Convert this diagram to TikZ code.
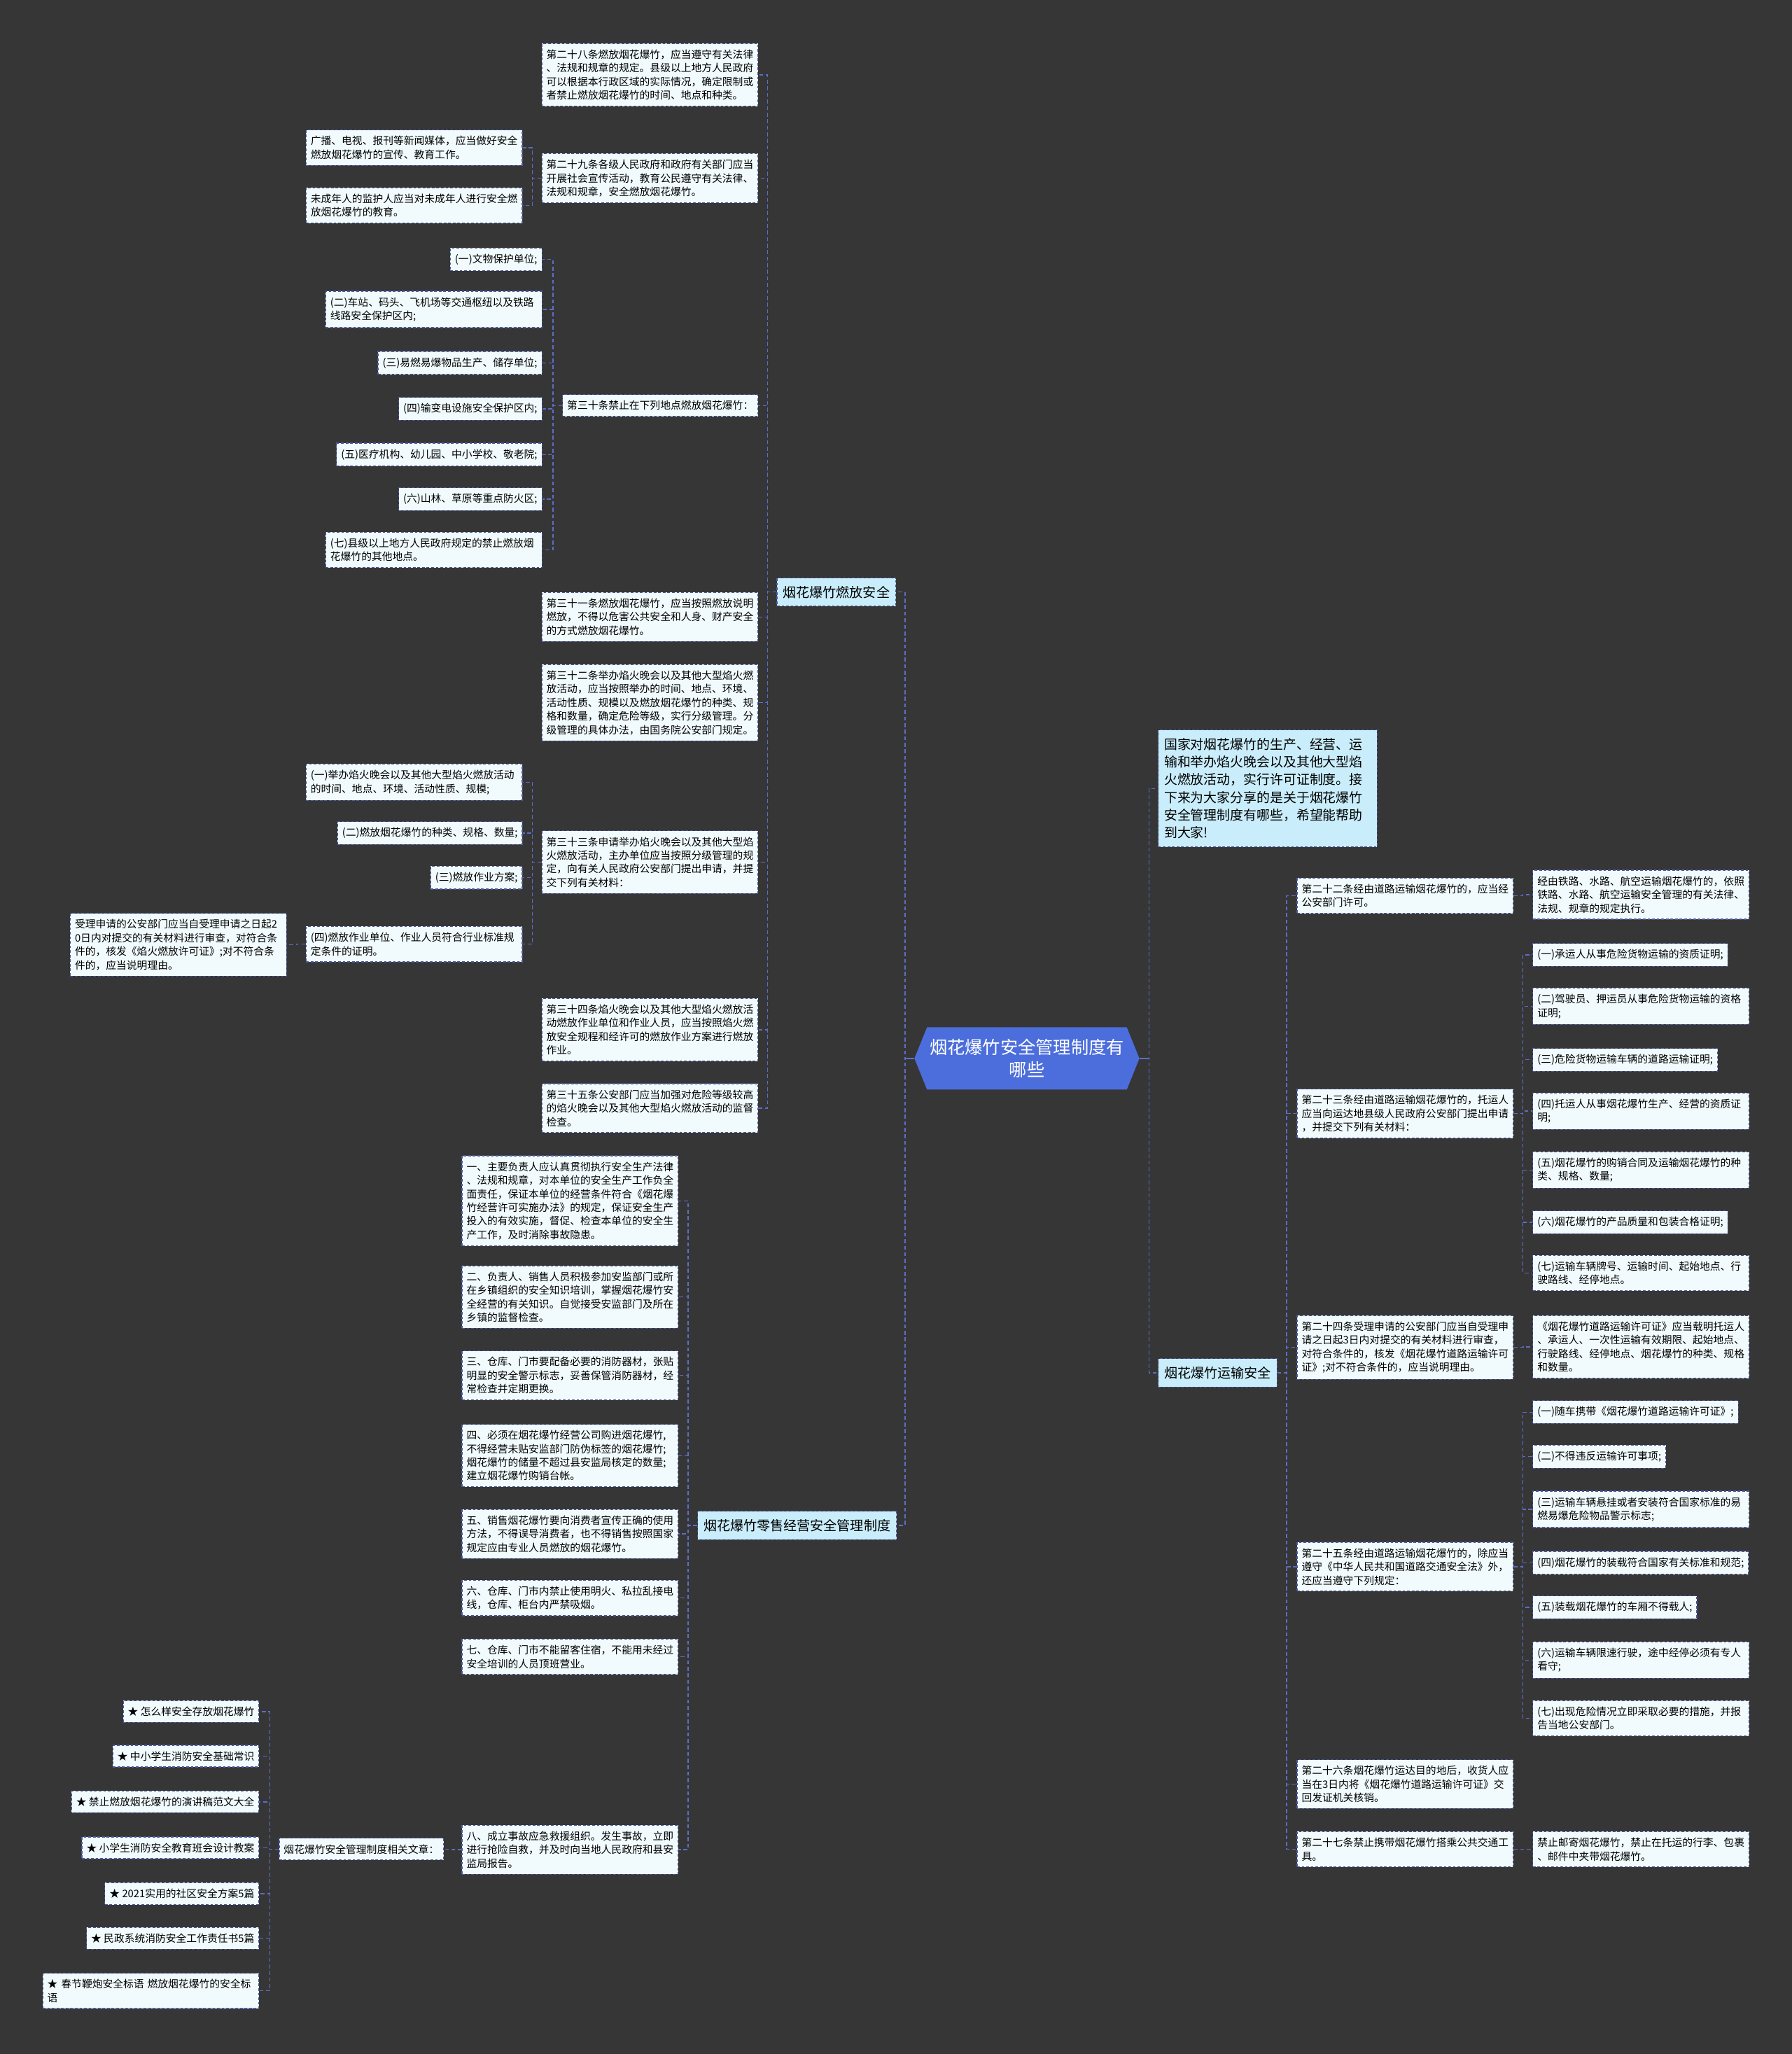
\documentclass[tikz,border=0pt]{standalone}
\usepackage{fontspec}
\usepackage{tikz}
\usetikzlibrary{shapes.symbols}
\setmainfont{Noto Sans CJK SC}

\definecolor{bgc}{HTML}{373637}
\definecolor{leafc}{HTML}{F1FBFD}
\definecolor{topicc}{HTML}{C9EDFB}
\definecolor{rootc}{HTML}{4C6EDC}
\definecolor{boxline}{HTML}{4A5A9E}
\definecolor{linkc}{HTML}{5A6EC8}

\newcommand{\leaffont}{\fontsize{7.9}{10.4}\selectfont}
\newcommand{\topicfont}{\fontsize{10.2}{12}\selectfont}
\newcommand{\introfont}{\fontsize{10.1}{13.5}\selectfont}
\newcommand{\rootfont}{\fontsize{13.5}{17}\selectfont}

\tikzset{
  leaf/.style={draw=boxline, dash pattern=on 2pt off 1.5pt, line width=0.6pt, fill=leafc,
    font=\leaffont, inner xsep=3.5pt, inner ysep=4.6pt, align=left},
  leafw/.style={leaf, text width=158pt},
  topic/.style={draw=boxline, dash pattern=on 2pt off 1.5pt, line width=0.6pt, fill=topicc,
    font=\topicfont, inner xsep=4.5pt, inner ysep=6pt},
  link/.style={draw=linkc, dash pattern=on 3pt off 2pt, line width=0.7pt},
  toL/.style={to path={-- ++(-7,0) |- (\tikztotarget)}},
  toR/.style={to path={-- ++(7,0) |- (\tikztotarget)}},
}

\begin{document}
\begin{tikzpicture}[x=1pt, y=-1pt]
        \fill[bgc] (0,0) rectangle (1368,1568);
        \useasboundingbox (0,0) rectangle (1368,1568);

        % centre
        \node[signal, signal to=west and east, signal pointer angle=136, fill=rootc, text=white,
          font=\rootfont, align=center, inner xsep=2pt, inner ysep=9pt] (root) at (784,808)
          {烟花爆竹安全管理制度有\\哪些};

        % left: burning
        \node[topic] (burn) at (638.5,452) {烟花爆竹燃放安全};
        \node[leafw, anchor=north east] (a28) at (579,33) {第二十八条燃放烟花爆竹，应当遵守有关法律\\、法规和规章的规定。县级以上地方人民政府\\可以根据本行政区域的实际情况，确定限制或\\者禁止燃放烟花爆竹的时间、地点和种类。};
        \node[leafw, anchor=north east] (a29) at (579,117) {第二十九条各级人民政府和政府有关部门应当\\开展社会宣传活动，教育公民遵守有关法律、\\法规和规章，安全燃放烟花爆竹。};
        \node[leafw, anchor=north east] (a29a) at (399,99) {广播、电视、报刊等新闻媒体，应当做好安全\\燃放烟花爆竹的宣传、教育工作。};
        \node[leafw, anchor=north east] (a29b) at (399,143) {未成年人的监护人应当对未成年人进行安全燃\\放烟花爆竹的教育。};
        \node[leaf, anchor=north east] (a30) at (579,301) {第三十条禁止在下列地点燃放烟花爆竹：};
        \node[leaf, anchor=north east] (p1) at (414,189) {(一)文物保护单位;};
        \node[leafw, anchor=north east] (p2) at (414,222) {(二)车站、码头、飞机场等交通枢纽以及铁路\\线路安全保护区内;};
        \node[leaf, anchor=north east] (p3) at (414,268) {(三)易燃易爆物品生产、储存单位;};
        \node[leaf, anchor=north east] (p4) at (414,303) {(四)输变电设施安全保护区内;};
        \node[leaf, anchor=north east] (p5) at (414,338) {(五)医疗机构、幼儿园、中小学校、敬老院;};
        \node[leaf, anchor=north east] (p6) at (414,372) {(六)山林、草原等重点防火区;};
        \node[leafw, anchor=north east] (p7) at (414,406) {(七)县级以上地方人民政府规定的禁止燃放烟\\花爆竹的其他地点。};
        \node[leafw, anchor=north east] (a31) at (579,452) {第三十一条燃放烟花爆竹，应当按照燃放说明\\燃放，不得以危害公共安全和人身、财产安全\\的方式燃放烟花爆竹。};
        \node[leafw, anchor=north east] (a32) at (579,507) {第三十二条举办焰火晚会以及其他大型焰火燃\\放活动，应当按照举办的时间、地点、环境、\\活动性质、规模以及燃放烟花爆竹的种类、规\\格和数量，确定危险等级，实行分级管理。分\\级管理的具体办法，由国务院公安部门规定。};
        \node[leafw, anchor=north east] (a33) at (579,634) {第三十三条申请举办焰火晚会以及其他大型焰\\火燃放活动，主办单位应当按照分级管理的规\\定，向有关人民政府公安部门提出申请，并提\\交下列有关材料：};
        \node[leafw, anchor=north east] (q1) at (399,583) {(一)举办焰火晚会以及其他大型焰火燃放活动\\的时间、地点、环境、活动性质、规模;};
        \node[leaf, anchor=north east] (q2) at (399,627) {(二)燃放烟花爆竹的种类、规格、数量;};
        \node[leaf, anchor=north east] (q3) at (399,661) {(三)燃放作业方案;};
        \node[leafw, anchor=north east] (q4) at (399,707) {(四)燃放作业单位、作业人员符合行业标准规\\定条件的证明。};
        \node[leafw, anchor=north east] (qx) at (219,697) {受理申请的公安部门应当自受理申请之日起2\\0日内对提交的有关材料进行审查，对符合条\\件的，核发《焰火燃放许可证》;对不符合条\\件的，应当说明理由。};
        \node[leafw, anchor=north east] (a34) at (579,762) {第三十四条焰火晚会以及其他大型焰火燃放活\\动燃放作业单位和作业人员，应当按照焰火燃\\放安全规程和经许可的燃放作业方案进行燃放\\作业。};
        \node[leafw, anchor=north east] (a35) at (579,827) {第三十五条公安部门应当加强对危险等级较高\\的焰火晚会以及其他大型焰火燃放活动的监督\\检查。};

        % left: retail
        \node[topic] (retail) at (608.5,1164.5) {烟花爆竹零售经营安全管理制度};
        \node[leafw, anchor=north east] (r1) at (518,882) {一、主要负责人应认真贯彻执行安全生产法律\\、法规和规章，对本单位的安全生产工作负全\\面责任，保证本单位的经营条件符合《烟花爆\\竹经营许可实施办法》的规定，保证安全生产\\投入的有效实施，督促、检查本单位的安全生\\产工作，及时消除事故隐患。};
        \node[leafw, anchor=north east] (r2) at (518,966) {二、负责人、销售人员积极参加安监部门或所\\在乡镇组织的安全知识培训，掌握烟花爆竹安\\全经营的有关知识。自觉接受安监部门及所在\\乡镇的监督检查。};
        \node[leafw, anchor=north east] (r3) at (518,1031) {三、仓库、门市要配备必要的消防器材，张贴\\明显的安全警示标志，妥善保管消防器材，经\\常检查并定期更换。};
        \node[leafw, anchor=north east] (r4) at (518,1087) {四、必须在烟花爆竹经营公司购进烟花爆竹,\\不得经营未贴安监部门防伪标签的烟花爆竹;\\烟花爆竹的储量不超过县安监局核定的数量;\\建立烟花爆竹购销台帐。};
        \node[leafw, anchor=north east] (r5) at (518,1152) {五、销售烟花爆竹要向消费者宣传正确的使用\\方法，不得误导消费者，也不得销售按照国家\\规定应由专业人员燃放的烟花爆竹。};
        \node[leafw, anchor=north east] (r6) at (518,1206) {六、仓库、门市内禁止使用明火、私拉乱接电\\线，仓库、柜台内严禁吸烟。};
        \node[leafw, anchor=north east] (r7) at (518,1251) {七、仓库、门市不能留客住宿，不能用未经过\\安全培训的人员顶班营业。};
        \node[leafw, anchor=north east] (r8) at (518,1393) {八、成立事故应急救援组织。发生事故，立即\\进行抢险自救，并及时向当地人民政府和县安\\监局报告。};
        \node[leaf, anchor=north east] (rel) at (339,1403) {烟花爆竹安全管理制度相关文章：};
        \node[leaf, anchor=north east] (s1) at (198,1298) {★ 怎么样安全存放烟花爆竹};
        \node[leaf, anchor=north east] (s2) at (198,1332) {★ 中小学生消防安全基础常识};
        \node[leaf, anchor=north east] (s3) at (198,1367) {★ 禁止燃放烟花爆竹的演讲稿范文大全};
        \node[leaf, anchor=north east] (s4) at (198,1402) {★ 小学生消防安全教育班会设计教案};
        \node[leaf, anchor=north east] (s5) at (198,1437) {★ 2021实用的社区安全方案5篇};
        \node[leaf, anchor=north east] (s6) at (198,1471) {★ 民政系统消防安全工作责任书5篇};
        \node[leafw, anchor=north east] (s7) at (198,1506) {★ 春节鞭炮安全标语 燃放烟花爆竹的安全标\\语};

        % right: intro and transport
        \node[topic, font=\introfont, text width=158pt, align=left, inner ysep=6.2pt, anchor=north west] (intro) at (884,557)
          {国家对烟花爆竹的生产、经营、运\\输和举办焰火晚会以及其他大型焰\\火燃放活动，实行许可证制度。接\\下来为大家分享的是关于烟花爆竹\\安全管理制度有哪些，希望能帮助\\到大家!};
        \node[topic, anchor=west] (transport) at (884,1048) {烟花爆竹运输安全};
        \node[leafw, anchor=north west] (t22) at (990,670) {第二十二条经由道路运输烟花爆竹的，应当经\\公安部门许可。};
        \node[leafw, anchor=north west] (t22x) at (1170,664) {经由铁路、水路、航空运输烟花爆竹的，依照\\铁路、水路、航空运输安全管理的有关法律、\\法规、规章的规定执行。};
        \node[leafw, anchor=north west] (t23) at (990,831) {第二十三条经由道路运输烟花爆竹的，托运人\\应当向运达地县级人民政府公安部门提出申请\\，并提交下列有关材料：};
        \node[leaf, anchor=north west] (u1) at (1170,720) {(一)承运人从事危险货物运输的资质证明;};
        \node[leafw, anchor=north west] (u2) at (1170,754) {(二)驾驶员、押运员从事危险货物运输的资格\\证明;};
        \node[leaf, anchor=north west] (u3) at (1170,800) {(三)危险货物运输车辆的道路运输证明;};
        \node[leafw, anchor=north west] (u4) at (1170,834) {(四)托运人从事烟花爆竹生产、经营的资质证\\明;};
        \node[leafw, anchor=north west] (u5) at (1170,879) {(五)烟花爆竹的购销合同及运输烟花爆竹的种\\类、规格、数量;};
        \node[leaf, anchor=north west] (u6) at (1170,924) {(六)烟花爆竹的产品质量和包装合格证明;};
        \node[leafw, anchor=north west] (u7) at (1170,958) {(七)运输车辆牌号、运输时间、起始地点、行\\驶路线、经停地点。};
        \node[leafw, anchor=north west] (t24) at (990,1004) {第二十四条受理申请的公安部门应当自受理申\\请之日起3日内对提交的有关材料进行审查，\\对符合条件的，核发《烟花爆竹道路运输许可\\证》;对不符合条件的，应当说明理由。};
        \node[leafw, anchor=north west] (t24x) at (1170,1004) {《烟花爆竹道路运输许可证》应当载明托运人\\、承运人、一次性运输有效期限、起始地点、\\行驶路线、经停地点、烟花爆竹的种类、规格\\和数量。};
        \node[leafw, anchor=north west] (t25) at (990,1177) {第二十五条经由道路运输烟花爆竹的，除应当\\遵守《中华人民共和国道路交通安全法》外，\\还应当遵守下列规定：};
        \node[leaf, anchor=north west] (v1) at (1170,1069) {(一)随车携带《烟花爆竹道路运输许可证》;};
        \node[leaf, anchor=north west] (v2) at (1170,1103) {(二)不得违反运输许可事项;};
        \node[leafw, anchor=north west] (v3) at (1170,1138) {(三)运输车辆悬挂或者安装符合国家标准的易\\燃易爆危险物品警示标志;};
        \node[leaf, anchor=north west] (v4) at (1170,1184) {(四)烟花爆竹的装载符合国家有关标准和规范;};
        \node[leaf, anchor=north west] (v5) at (1170,1218) {(五)装载烟花爆竹的车厢不得载人;};
        \node[leafw, anchor=north west] (v6) at (1170,1253) {(六)运输车辆限速行驶，途中经停必须有专人\\看守;};
        \node[leafw, anchor=north west] (v7) at (1170,1298) {(七)出现危险情况立即采取必要的措施，并报\\告当地公安部门。};
        \node[leafw, anchor=north west] (t26) at (990,1343) {第二十六条烟花爆竹运达目的地后，收货人应\\当在3日内将《烟花爆竹道路运输许可证》交\\回发证机关核销。};
        \node[leafw, anchor=north west] (t27) at (990,1398) {第二十七条禁止携带烟花爆竹搭乘公共交通工\\具。};
        \node[leafw, anchor=north west] (t27x) at (1170,1398) {禁止邮寄烟花爆竹，禁止在托运的行李、包裹\\、邮件中夹带烟花爆竹。};

        \draw[link]
        (root.west) edge[toL] (burn.east) edge[toL] (retail.east)
        (root.east) edge[toR] (intro.west) edge[toR] (transport.west)
        (burn.west) edge[toL] (a28.east) edge[toL] (a29.east) edge[toL] (a30.east)
          edge[toL] (a31.east) edge[toL] (a32.east) edge[toL] (a33.east)
          edge[toL] (a34.east) edge[toL] (a35.east)
        (a29.west) edge[toL] (a29a.east) edge[toL] (a29b.east)
        (a30.west) edge[toL] (p1.east) edge[toL] (p2.east) edge[toL] (p3.east)
          edge[toL] (p4.east) edge[toL] (p5.east) edge[toL] (p6.east) edge[toL] (p7.east)
        (a33.west) edge[toL] (q1.east) edge[toL] (q2.east) edge[toL] (q3.east) edge[toL] (q4.east)
        (q4.west) edge[toL] (qx.east)
        (retail.west) edge[toL] (r1.east) edge[toL] (r2.east) edge[toL] (r3.east) edge[toL] (r4.east)
          edge[toL] (r5.east) edge[toL] (r6.east) edge[toL] (r7.east) edge[toL] (r8.east)
        (r8.west) edge[toL] (rel.east)
        (rel.west) edge[toL] (s1.east) edge[toL] (s2.east) edge[toL] (s3.east) edge[toL] (s4.east)
          edge[toL] (s5.east) edge[toL] (s6.east) edge[toL] (s7.east)
        (transport.east) edge[toR] (t22.west) edge[toR] (t23.west) edge[toR] (t24.west)
          edge[toR] (t25.west) edge[toR] (t26.west) edge[toR] (t27.west)
        (t22.east) edge[toR] (t22x.west)
        (t23.east) edge[toR] (u1.west) edge[toR] (u2.west) edge[toR] (u3.west) edge[toR] (u4.west)
          edge[toR] (u5.west) edge[toR] (u6.west) edge[toR] (u7.west)
        (t24.east) edge[toR] (t24x.west)
        (t25.east) edge[toR] (v1.west) edge[toR] (v2.west) edge[toR] (v3.west) edge[toR] (v4.west)
          edge[toR] (v5.west) edge[toR] (v6.west) edge[toR] (v7.west)
        (t27.east) edge[toR] (t27x.west)
        ;
        % solid stubs at the centre
        \draw[linkc, line width=0.9pt] (root.west) -- ++(-6,0) (root.east) -- ++(7,0);
\end{tikzpicture}
\end{document}
